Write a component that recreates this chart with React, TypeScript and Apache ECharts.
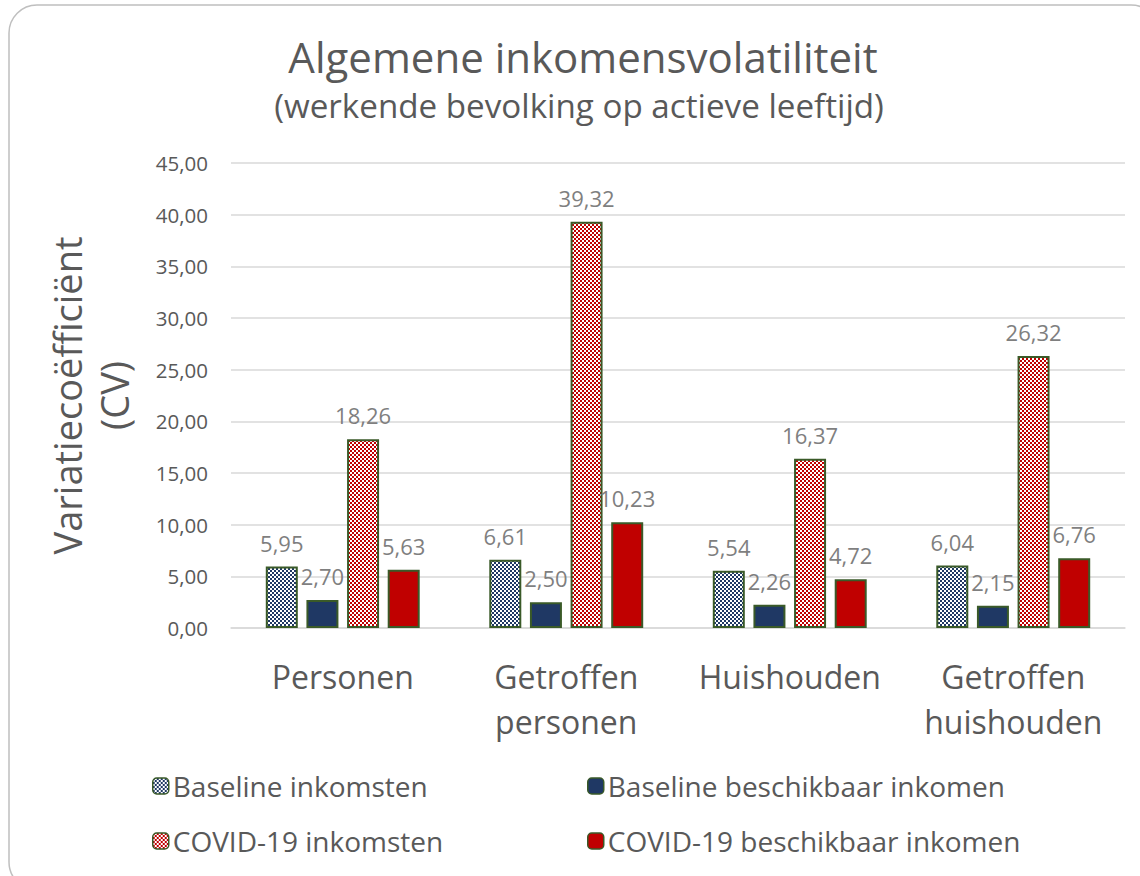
import React, { useEffect, useRef } from "react";
import * as echarts from "echarts";

const categories = ["Personen", "Getroffen\npersonen", "Huishouden", "Getroffen\nhuishouden"];
const seriesNames = [
  "Baseline inkomsten",
  "Baseline beschikbaar inkomen",
  "COVID-19 inkomsten",
  "COVID-19 beschikbaar inkomen",
];
const baselineInkomsten = [5.95, 6.61, 5.54, 6.04];
const baselineBeschikbaar = [2.7, 2.5, 2.26, 2.15];
const covidInkomsten = [18.26, 39.32, 16.37, 26.32];
const covidBeschikbaar = [5.63, 10.23, 4.72, 6.76];
const yMin = 0;
const yMax = 45;
const yInterval = 5;

const NAVY = "#1F3864";
const RED = "#C00000";
const BORDER = "#3A5A28";
const TEXT = "#595959";
const FONT = "'Open Sans', Lato, sans-serif";

function checker(color: string): string {
  const c = document.createElement("canvas");
  c.width = 4;
  c.height = 4;
  const ctx = c.getContext("2d")!;
  ctx.fillStyle = "#ffffff";
  ctx.fillRect(0, 0, 4, 4);
  ctx.fillStyle = color;
  ctx.fillRect(0, 0, 2, 2);
  ctx.fillRect(2, 2, 2, 2);
  return c.toDataURL();
}

const fmt = (v: number) => v.toFixed(2).replace(".", ",");

export default function App() {
  const ref = useRef<HTMLDivElement>(null);
  useEffect(() => {
    if (!ref.current) return;
    const chart = echarts.init(ref.current, null, { renderer: "svg" });
    const navyPat = { image: checker(NAVY), repeat: "repeat" } as any;
    const redPat = { image: checker(RED), repeat: "repeat" } as any;
    const fills = [navyPat, NAVY, redPat, RED];
    const datas = [baselineInkomsten, baselineBeschikbaar, covidInkomsten, covidBeschikbaar];
    const legendBase = {
      orient: "vertical",
      top: 767,
      itemWidth: 16,
      itemHeight: 16,
      itemGap: 27,
      itemStyle: { borderColor: BORDER, borderWidth: 1.5 },
      textStyle: { fontSize: 28, color: TEXT, fontFamily: FONT, padding: [0, 0, 0, -1] },
    };
    chart.setOption({
      animation: false,
      textStyle: { fontFamily: FONT },
      title: [
        {
          text: "Algemene inkomensvolatiliteit",
          left: 578,
          top: 30,
          textAlign: "center",
          textStyle: { fontSize: 42, fontWeight: "normal", color: TEXT, fontFamily: FONT },
        },
        {
          text: "(werkende bevolking op actieve leeftijd)",
          left: 574,
          top: 84,
          textAlign: "center",
          textStyle: { fontSize: 33.2, fontWeight: "normal", color: TEXT, fontFamily: FONT },
        },
      ],
      graphic: [
        {
          type: "rect",
          shape: { x: 9, y: 5, width: 1150, height: 885, r: 28 },
          style: { fill: "none", stroke: "#BFBFBF", lineWidth: 1.5 },
          silent: true,
        },
      ],
      legend: [
        { ...legendBase, data: [seriesNames[0], seriesNames[2]], left: 147 },
        { ...legendBase, data: [seriesNames[1], seriesNames[3]], left: 582 },
      ],
      grid: { left: 231, right: 15, top: 163, bottom: 248, containLabel: false },
      xAxis: {
        type: "category",
        data: categories,
        axisLine: { lineStyle: { color: "#D9D9D9", width: 1.5 } },
        axisTick: { show: false },
        axisLabel: {
          interval: 0,
          fontSize: 32,
          lineHeight: 45,
          color: TEXT,
          margin: 26,
          fontFamily: FONT,
        },
      },
      yAxis: {
        type: "value",
        min: yMin,
        max: yMax,
        interval: yInterval,
        name: "Variatiecoëfficiënt\n(CV)",
        nameLocation: "middle",
        nameRotate: 90,
        nameGap: 94,
        nameTextStyle: { fontSize: 38, lineHeight: 47, color: TEXT, fontFamily: FONT },
        axisLine: { show: false },
        axisTick: { show: false },
        splitLine: { lineStyle: { color: "#D9D9D9", width: 1.5 } },
        axisLabel: {
          fontSize: 20.5,
          color: TEXT,
          margin: 23,
          fontFamily: FONT,
          formatter: (v: number) => fmt(v),
        },
      },
      series: seriesNames.map((name, i) => ({
        name,
        type: "bar",
        data: datas[i],
        barWidth: 32,
        barGap: "27%",
        itemStyle: { color: fills[i], borderColor: BORDER, borderWidth: 2 },
        label: {
          show: true,
          position: "top",
          distance: 13,
          fontSize: 22,
          color: "#7F7F7F",
          fontFamily: FONT,
          formatter: (p: any) => fmt(p.value),
        },
      })),
    });
    return () => chart.dispose();
  }, []);
  return (
    <div
      ref={ref}
      style={{ position: "fixed", left: 0, top: 0, width: 1140, height: 876, background: "#fff" }}
    />
  );
}
